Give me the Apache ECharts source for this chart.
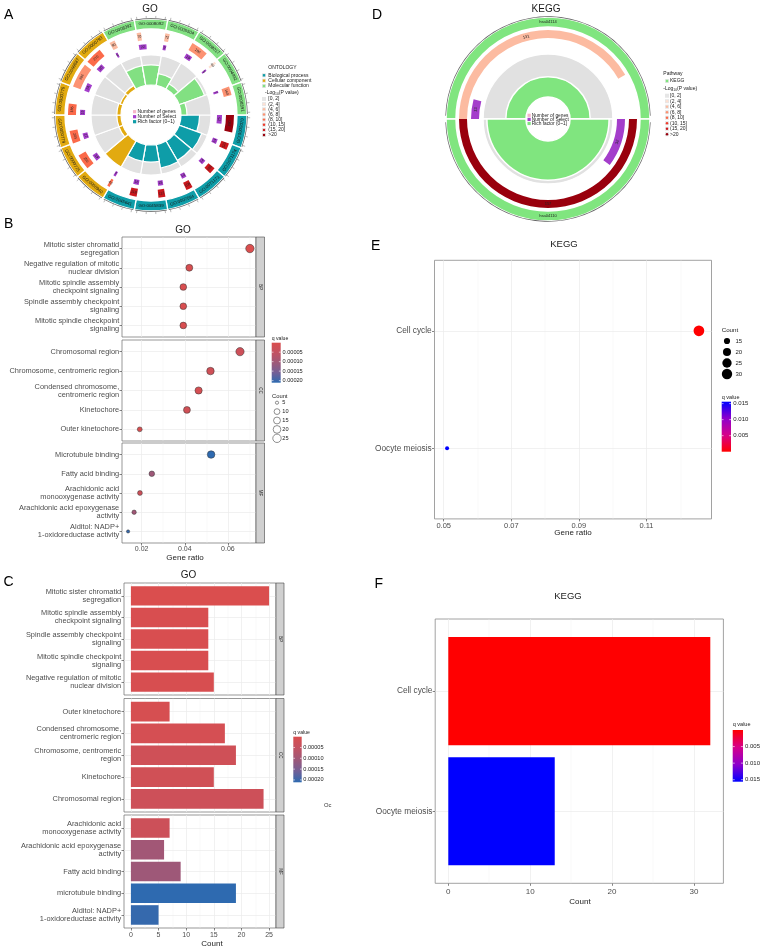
<!DOCTYPE html>
<html>
<head>
<meta charset="utf-8">
<script src="https://cdn.jsdelivr.net/npm/echarts@6.0.0/dist/echarts.min.js"></script>
<style>
html,body{margin:0;padding:0;background:#fff;}
#chart{width:769px;height:951px;}
</style>
</head>
<body>
<div id="chart"></div>
<script>
// ======================= DATA =======================
// Panel A - GO circle (sectors clockwise from 3 o'clock)
const goIds = ['GO:0000070','GO:0071174','GO:0071173','GO:0007094','GO:0045839','GO:0045841',
               'GO:0000940','GO:0000775','GO:0000779','GO:0000776','GO:0098687','GO:0000793',
               'GO:0008392','GO:0008092','GO:0005504','GO:0008017','GO:0004032','GO:0008391'];
const goOntology = ['BP','BP','BP','BP','BP','BP','CC','CC','CC','CC','CC','CC','MF','MF','MF','MF','MF','MF'];
const goGenes = [280,110,105,108,112,118, 42,250,205,185,396,270, 90,70,72,280,40,140];
const goLogPClass = [7,6,6,6,6,6, 4,4,4,4,3,4, 2,2,2,3,1,3];
const goSelect = [25,14,14,14,15,16, 7,19,17,15,24,20, 6,22,9,19,5,7];
const goRich = [0.62,0.8,0.75,0.8,0.57,0.57, 1.0,0.14,0.14,0.14,0.1,0.14, 0.67,0.67,0.4,0.2,0.9,0.2];

// Panel D - KEGG circle (clockwise from 9 o'clock)
const keggIds = ['hsa04114','hsa04110'];
const keggGenes = [131,157];
const keggLogPClass = [2,7];
const keggSelect = [13,32];
const keggRich = [0.47,0.91];

const logPLevels = ['[0, 2]','(2, 4]','(4, 6]','(6, 8]','(8, 10]','(10, 15]','(15, 20]','>20'];
const ontologyNames = ['Biological process','Cellular component','Molecular function'];

// Panel B - GO dot plot
const bLabelsBP = ['Mitotic sister chromatid\nsegregation','Negative regulation of mitotic\nnuclear division','Mitotic spindle assembly\ncheckpoint signaling','Spindle assembly checkpoint\nsignaling','Mitotic spindle checkpoint\nsignaling'];
const bRatioBP = [0.0702,0.0421,0.0393,0.0393,0.0393];
const bCountBP = [25,15,14,14,14];
const bQBP = [0.0000002,0.000006,0.000004,0.000004,0.000004];
const bLabelsCC = ['Chromosomal region','Chromosome, centromeric region','Condensed chromosome,\ncentromeric region','Kinetochore','Outer kinetochore'];
const bRatioCC = [0.0656,0.0519,0.0464,0.0410,0.0191];
const bCountCC = [24,19,17,15,7];
const bQCC = [0.000028,0.000025,0.000012,0.000022,0.000008];
const bLabelsMF = ['Microtubule binding','Fatty acid binding','Arachidonic acid\nmonooxygenase activity','Arachidonic acid epoxygenase\nactivity','Alditol: NADP+\n1-oxidoreductase activity'];
const bRatioMF = [0.0522,0.0247,0.0192,0.0165,0.0137];
const bCountMF = [19,9,7,6,5];
const bQMF = [0.00021,0.000105,0.00003,0.0001,0.000205];
const bXTicks = [0.02,0.04,0.06];
const bCountLegend = [5,10,15,20,25];
const goQTicks = [0.00005,0.0001,0.00015,0.0002];

// Panel C - GO bar plot
const cLabelsBP = ['Mitotic sister chromatid\nsegregation','Mitotic spindle assembly\ncheckpoint signaling','Spindle assembly checkpoint\nsignaling','Mitotic spindle checkpoint\nsignaling','Negative regulation of mitotic\nnuclear division'];
const cCountBP = [25,14,14,14,15];
const cQBP = [0.0000002,0.000004,0.000004,0.000004,0.000006];
const cLabelsCC = ['Outer kinetochore','Condensed chromosome,\ncentromeric region','Chromosome, centromeric\nregion','Kinetochore','Chromosomal region'];
const cCountCC = [7,17,19,15,24];
const cQCC = [0.000008,0.000012,0.000025,0.000022,0.000028];
const cLabelsMF = ['Arachidonic acid\nmonooxygenase activity','Arachidonic acid epoxygenase\nactivity','Fatty acid binding','microtubule binding','Alditol: NADP+\n1-oxidoreductase activity'];
const cCountMF = [7,6,9,19,5];
const cQMF = [0.00003,0.0001,0.000105,0.00021,0.000205];
const cXTicks = [0,5,10,15,20,25];

// Panels E & F - KEGG
const keggTerms = ['Cell cycle','Oocyte meiosis'];
const keggCount = [32,13];
const keggRatio = [0.1255,0.0510];
const keggQ = [0.00002,0.0156];
const eXTicks = [0.05,0.07,0.09,0.11];
const fXTicks = [0,10,20,30];
const eCountLegend = [15,20,25,30];
const keggQTicks = [0.005,0.010,0.015];

// ======================= STYLE =======================
const FONT = '"Liberation Sans", Arial, Helvetica, sans-serif';
const ontColor = {BP:'#0E9DA8', CC:'#E2AA10', MF:'#82E082'};
const keggGreen = '#80E57F';
const purple = '#A43ECB';
const pink = '#F7B5C8';
const logPColors = ['#E6E6E6','#FEE0D2','#FCBBA1','#FC9272','#FB6A4A','#EF3B2C','#CB181D','#99000D'];
const goQColors = ['#DA4E4E','#C25262','#9E5878','#735F96','#2D6AB0'];
const keggQColors = ['#FF0000','#D6008A','#8E00CC','#0000FF'];

const grids = [], xAxes = [], yAxes = [], series = [], graphics = [], visualMaps = [];

function T(x, y, text, size, o) {
  o = o || {};
  const el = {type:'text', x:x, y:y, silent:true, z:100,
    style:{text:text, fontSize:size, fontFamily:FONT, fill:o.fill || '#1a1a1a', align:o.align || 'left', verticalAlign:o.va || 'middle'}};
  if (o.rotation != null) el.rotation = o.rotation;
  if (o.rich) el.style.rich = o.rich;
  graphics.push(el);
}
function R(x, y, w, h, fill, stroke, lw) {
  graphics.push({type:'rect', silent:true, z:99, shape:{x:x, y:y, width:w, height:h}, style:{fill:fill, stroke:stroke || null, lineWidth:lw || 0}});
}
function Cir(cx, cy, r, fill, stroke, lw) {
  graphics.push({type:'circle', silent:true, z:100, shape:{cx:cx, cy:cy, r:r}, style:{fill:fill, stroke:stroke || null, lineWidth:lw || 0}});
}
function Ln(x1, y1, x2, y2, stroke, lw) {
  graphics.push({type:'line', silent:true, z:101, shape:{x1:x1, y1:y1, x2:x2, y2:y2}, style:{stroke:stroke, lineWidth:lw}});
}

// ---------- cartesian facet panel (ggplot-like) ----------
function addPanel(box, cats, xr, o) {
  const unit = box.height / (cats.length + 0.2);
  const go = grids.length;
  grids.push({left:box.left, top:box.top, width:box.width, height:box.height, show:true, z:0,
    borderColor:o.border, borderWidth:o.borderWidth, backgroundColor:'rgba(0,0,0,0)'});
  const xo = xAxes.length;
  xAxes.push({gridIndex:go, type:'value', min:xr[0], max:xr[1], splitLine:{show:false},
    axisLine:{show:false, onZero:false},
    axisTick:{show:!!o.showX, customValues:o.xTicks, length:2.5, lineStyle:{color:'#333', width:0.6}},
    axisLabel:{show:!!o.showX, customValues:o.xTicks, formatter:o.xFmt, fontSize:o.xFont, color:'#4d4d4d', margin:o.xMargin, fontFamily:FONT}});
  const yo = yAxes.length;
  yAxes.push({gridIndex:go, type:'value', min:0, max:1, show:false, axisLine:{onZero:false}});
  series.push({type:'line', xAxisIndex:xo, yAxisIndex:yo, data:[], silent:true, z:1, symbol:'none',
    markLine:{silent:true, z:1, symbol:['none','none'], label:{show:false}, animation:false,
      data: o.xMajor.map(v => ({xAxis:v, lineStyle:{color:'#EBEBEB', width:0.7, type:'solid'}}))
        .concat(o.xMinor.map(v => ({xAxis:v, lineStyle:{color:'#EFEFEF', width:0.4, type:'solid'}})))}});
  const gi = grids.length;
  grids.push({left:box.left, top:box.top + 0.1 * unit, width:box.width, height:cats.length * unit, show:false});
  const xi = xAxes.length;
  xAxes.push({gridIndex:gi, type:'value', min:xr[0], max:xr[1], show:false, splitLine:{show:false}, axisLine:{onZero:false}});
  const yi = yAxes.length;
  yAxes.push({gridIndex:gi, type:'category', data:cats, inverse:true,
    axisLine:{show:false, onZero:false},
    axisTick:{show:true, alignWithLabel:true, length:2.5, lineStyle:{color:'#333', width:0.6}},
    axisLabel:{interval:0, fontSize:o.yFont, lineHeight:o.yLine, color:'#4d4d4d', margin:o.yMargin, fontFamily:FONT},
    splitLine:{show:false}});
  series.push({type:'line', xAxisIndex:xi, yAxisIndex:yi, data:[], silent:true, z:1, symbol:'none',
    markLine:{silent:true, z:1, symbol:['none','none'], label:{show:false}, animation:false,
      data: cats.map((c, i) => ({yAxis:i, lineStyle:{color:'#EBEBEB', width:0.7, type:'solid'}}))}});
  if (o.strip) {
    R(box.left + box.width, box.top, o.stripW, box.height, '#D0D0D0', '#444', 0.6);
    T(box.left + box.width + o.stripW / 2, box.top + box.height / 2, o.strip, 4.5, {align:'center', rotation:-Math.PI / 2});
  }
  return {xi:xi, yi:yi, unit:unit};
}
function expandRange(vals, base) {
  const all = base != null ? vals.concat([base]) : vals;
  const lo = Math.min.apply(null, all), hi = Math.max.apply(null, all);
  const pad = 0.05 * (hi - lo);
  return [lo - pad, hi + pad];
}
function minorOf(ticks, xr) {
  const step = ticks[1] - ticks[0];
  const out = [];
  for (let i = -1; i < ticks.length; i++) {
    const v = (i < 0 ? ticks[0] - step : ticks[i]) + step / 2;
    if (v > xr[0] && v < xr[1]) out.push(+v.toFixed(6));
  }
  return out;
}

// ======================= PANEL B =======================
const bAll = bRatioBP.concat(bRatioCC, bRatioMF);
const bRange = expandRange(bAll);
const bCntAll = bCountBP.concat(bCountCC, bCountMF);
const bCmin = Math.min.apply(null, bCntAll), bCmax = Math.max.apply(null, bCntAll);
function sizeB(c) { return 3.2 + Math.sqrt((c - bCmin) / (bCmax - bCmin)) * 5.2; }
const bScatterIdx = [];
const bCfgBase = {border:'#6b6b6b', borderWidth:0.7, xTicks:bXTicks, xMajor:bXTicks, xMinor:minorOf(bXTicks, bRange),
  xFmt:v => (+v).toFixed(2), xFont:7, xMargin:2.5, yFont:7.4, yLine:8, yMargin:2.8, stripW:8.5};
[[bLabelsBP, bRatioBP, bCountBP, bQBP, 237, 100, 'BP', false],
 [bLabelsCC, bRatioCC, bCountCC, bQCC, 340, 101, 'CC', false],
 [bLabelsMF, bRatioMF, bCountMF, bQMF, 443, 100, 'MF', true]].forEach(f => {
  const p = addPanel({left:122, top:f[4], width:134, height:f[5]}, f[0], bRange, Object.assign({}, bCfgBase, {showX:f[7], strip:f[6]}));
  bScatterIdx.push(series.length);
  series.push({type:'scatter', xAxisIndex:p.xi, yAxisIndex:p.yi, z:10, animation:false,
    data:f[1].map((r, i) => [r, i, f[2][i], f[3][i]]),
    symbolSize:v => sizeB(v[2]), itemStyle:{borderColor:'#333', borderWidth:0.5, opacity:1}});
});
const goQMax = 0.000211;
visualMaps.push({type:'continuous', show:false, min:0, max:goQMax, dimension:3, seriesIndex:bScatterIdx, inRange:{color:goQColors}});

// ======================= PANEL C =======================
const cRange = expandRange(cCountBP.concat(cCountCC, cCountMF), 0);
const cBarIdx = [];
const cCfgBase = {border:'#6b6b6b', borderWidth:0.7, xTicks:cXTicks, xMajor:cXTicks, xMinor:minorOf(cXTicks, cRange),
  xFmt:v => String(v), xFont:7, xMargin:4, yFont:7.4, yLine:8, yMargin:2.8, stripW:8};
[[cLabelsBP, cCountBP, cQBP, 583, 112, 'BP', false],
 [cLabelsCC, cCountCC, cQCC, 698.5, 113.5, 'CC', false],
 [cLabelsMF, cCountMF, cQMF, 815, 113, 'MF', true]].forEach(f => {
  const p = addPanel({left:124, top:f[3], width:152, height:f[4]}, f[0], cRange, Object.assign({}, cCfgBase, {showX:f[6], strip:f[5]}));
  cBarIdx.push(series.length);
  series.push({type:'bar', xAxisIndex:p.xi, yAxisIndex:p.yi, z:10, animation:false, barWidth:0.9 * p.unit,
    data:f[1].map((c, i) => [c, i, f[2][i]]), encode:{x:0, y:1}});
});
visualMaps.push({type:'continuous', show:false, min:0, max:goQMax, dimension:2, seriesIndex:cBarIdx, inRange:{color:goQColors}});

// ======================= PANEL E =======================
const eRange = expandRange(keggRatio);
const eCmin = Math.min.apply(null, keggCount), eCmax = Math.max.apply(null, keggCount);
function sizeE(c) { return 4 + Math.sqrt(Math.max(0, (c - eCmin) / (eCmax - eCmin))) * 6.7; }
const keggQMax = 0.0156;
{
  const p = addPanel({left:434.5, top:260.3, width:277, height:258.6}, keggTerms, eRange,
    {border:'#8a8a8a', borderWidth:0.8, showX:true, xTicks:eXTicks, xMajor:eXTicks, xMinor:minorOf(eXTicks, eRange),
     xFmt:v => (+v).toFixed(2), xFont:7.5, xMargin:3, yFont:8.3, yLine:9, yMargin:2.8});
  visualMaps.push({type:'continuous', show:false, min:0, max:keggQMax, dimension:3, seriesIndex:[series.length], inRange:{color:keggQColors}});
  series.push({type:'scatter', xAxisIndex:p.xi, yAxisIndex:p.yi, z:10, animation:false,
    data:keggRatio.map((r, i) => [r, i, keggCount[i], keggQ[i]]), symbolSize:v => sizeE(v[2]), itemStyle:{opacity:1}});
}

// ======================= PANEL F =======================
const fRange = expandRange(keggCount, 0);
{
  const p = addPanel({left:435.2, top:619, width:288.2, height:264.3}, keggTerms, fRange,
    {border:'#8a8a8a', borderWidth:0.8, showX:true, xTicks:fXTicks, xMajor:fXTicks, xMinor:minorOf(fXTicks, fRange),
     xFmt:v => String(v), xFont:8, xMargin:4.5, yFont:8.3, yLine:9, yMargin:2.8});
  visualMaps.push({type:'continuous', show:false, min:0, max:keggQMax, dimension:2, seriesIndex:[series.length], inRange:{color:keggQColors}});
  series.push({type:'bar', xAxisIndex:p.xi, yAxisIndex:p.yi, z:10, animation:false, barWidth:0.9 * p.unit,
    data:keggCount.map((c, i) => [c, i, keggQ[i]]), encode:{x:0, y:1}});
}

// ======================= CIRCLES (A & D) =======================
function ringSeries(polarIndex, items) {
  return {
    type:'custom', coordinateSystem:'polar', polarIndex:polarIndex, silent:true, z:2, animation:false,
    data:items.map(it => [it.r0, it.a0, it.r1, it.a1]),
    renderItem:function (params, api) {
      const it = items[params.dataIndex];
      const r0 = api.value(0), a0 = api.value(1), r1 = api.value(2), a1 = api.value(3);
      const cs = params.coordSys;
      if (it.kind === 'tick') {
        const q0 = api.coord([r0, a0]), q1 = api.coord([r1, a0]);
        return {type:'line', shape:{x1:q0[0], y1:q0[1], x2:q1[0], y2:q1[1]}, style:{stroke:it.stroke, lineWidth:it.lw}};
      }
      const p0 = api.coord([r0, a0]), p1 = api.coord([r1, a1]);
      const children = [{type:'sector', shape:{cx:cs.cx, cy:cs.cy, r0:p0[2], r:p1[2], startAngle:-p0[3], endAngle:-p1[3], clockwise:true},
        style:{fill:it.fill, stroke:it.stroke || null, lineWidth:it.lw || 0}}];
      if (it.text) {
        const pm = api.coord([(r0 + r1) / 2, (a0 + a1) / 2]);
        let rot = pm[3] - Math.PI / 2;
        while (rot > Math.PI / 2) rot -= Math.PI;
        while (rot < -Math.PI / 2) rot += Math.PI;
        children.push({type:'text', x:pm[0], y:pm[1], rotation:rot,
          style:{text:it.text, fontSize:it.fs, fontFamily:FONT, fill:it.tc || '#222', align:'center', verticalAlign:'middle'}});
      }
      return {type:'group', children:children};
    }
  };
}

// --- A ---
const GENE_SCALE_A = 460, SELECT_SCALE_A = 70;
const aItems = [];
goIds.forEach((id, i) => {
  const col = ontColor[goOntology[i]];
  aItems.push({r0:30, r1:60, a0:i, a1:i + 1, fill:'#E1E1E1', stroke:'#fff', lw:1.2});
  aItems.push({r0:30, r1:30 + 30 * goRich[i], a0:i, a1:i + 1, fill:col, stroke:'#fff', lw:1.2});
  aItems.push({r0:66, r1:71, a0:i, a1:i + goSelect[i] / SELECT_SCALE_A, fill:purple, text:String(goSelect[i]), fs:3.6});
  aItems.push({r0:75, r1:83, a0:i, a1:i + goGenes[i] / GENE_SCALE_A, fill:logPColors[goLogPClass[i]], text:String(goGenes[i]), fs:3.6});
  aItems.push({r0:86, r1:96, a0:i, a1:i + 1, fill:col, stroke:'#fff', lw:1.3, text:id, fs:4.4, tc:'#1a1a1a'});
  aItems.push({r0:96, r1:96.7, a0:i + 0.03, a1:i + 0.97, fill:'#555'});
  for (let k = 0; k < 4; k++) aItems.push({kind:'tick', r0:96.7, r1:99.2, a0:i + 0.08 + k * 0.28, a1:i + 0.08 + k * 0.28, stroke:'#8a8a8a', lw:0.6});
});
// --- D ---
const keggMaxGenes = Math.max.apply(null, keggGenes);
const dItems = [];
keggIds.forEach((id, i) => {
  dItems.push({r0:22, r1:65, a0:i, a1:i + 1, fill:'#E1E1E1', stroke:'#fff', lw:1.5});
  dItems.push({r0:22, r1:22 + 43 * keggRich[i], a0:i, a1:i + 1, fill:keggGreen, stroke:'#fff', lw:1.5});
  dItems.push({r0:69, r1:77, a0:i, a1:i + keggSelect[i] / keggMaxGenes, fill:purple, text:String(keggSelect[i]), fs:4});
  dItems.push({r0:81, r1:89, a0:i, a1:i + keggGenes[i] / keggMaxGenes, fill:logPColors[keggLogPClass[i]], text:String(keggGenes[i]), fs:4});
  dItems.push({r0:92, r1:102, a0:i, a1:i + 1, fill:keggGreen, stroke:'#fff', lw:1.5, text:id, fs:4, tc:'#1a1a1a'});
  dItems.push({r0:102, r1:102.7, a0:i + 0.01, a1:i + 0.99, fill:'#666'});
});
series.push(ringSeries(0, aItems));
series.push(ringSeries(1, dItems));

// ======================= TEXT / LEGENDS =======================
const subRich = {sub:{fontSize:3.4, fontFamily:FONT, fill:'#1a1a1a', padding:[3, 0, 0, 0]}};
// panel letters
T(4, 15, 'A', 14, {fill:'#000'});
T(4, 224, 'B', 14, {fill:'#000'});
T(3.5, 582.5, 'C', 14, {fill:'#000'});
T(372, 15, 'D', 14, {fill:'#000'});
T(371, 246, 'E', 14, {fill:'#000'});
T(374.5, 584, 'F', 14, {fill:'#000'});
// titles
T(150, 9.5, 'GO', 10, {align:'center'});
T(546, 9.5, 'KEGG', 10, {align:'center'});
T(183, 230, 'GO', 10, {align:'center'});
T(188.5, 575, 'GO', 10, {align:'center'});
T(564, 244, 'KEGG', 9.5, {align:'center'});
T(568, 596, 'KEGG', 9.5, {align:'center'});
// axis titles
T(185, 558, 'Gene ratio', 8, {align:'center', fill:'#222'});
T(212, 943.5, 'Count', 8, {align:'center', fill:'#222'});
T(573, 532.5, 'Gene ratio', 8, {align:'center', fill:'#222'});
T(580, 901.5, 'Count', 8, {align:'center', fill:'#222'});

// A center legend
[[pink, 'Number of genes'], [purple, 'Number of Select'], [ontColor.BP, 'Rich factor (0~1)']].forEach((d, k) => {
  const y = 111.7 + k * 5;
  R(133, y - 1.6, 3.2, 3.2, d[0]);
  T(137.5, y, d[1], 5);
});
// D center legend
[[pink, 'Number of genes'], [purple, 'Number of Select'], [keggGreen, 'Rich factor (0~1)']].forEach((d, k) => {
  const y = 115.3 + k * 4.1;
  R(527.5, y - 1.6, 3.2, 3.2, d[0]);
  T(531.7, y, d[1], 4.8);
});
// A right legend
T(268.3, 67.7, 'ONTOLOGY', 5);
ontologyNames.forEach((n, k) => {
  const y = 75.3 + k * 5.35;
  R(262, y - 2, 4, 4, '#E6E6E6');
  R(262.8, y - 1.2, 2.4, 2.4, [ontColor.BP, ontColor.CC, ontColor.MF][k]);
  T(268.3, y, n, 5);
});
T(265, 93, '-Log{sub|10}(P value)', 5, {rich:subRich});
logPLevels.forEach((n, k) => {
  const y = 99 + k * 5.15;
  R(262, y - 2, 4, 4, '#E6E6E6');
  if (k > 0) Cir(264, y, 1.2, logPColors[k]);
  T(268.3, y, n, 5);
});
// D right legend
T(663.3, 74, 'Pathway', 5);
R(665, 81 - 2, 4, 4, '#E6E6E6');
R(665.8, 81 - 1.2, 2.4, 2.4, keggGreen);
T(670, 81, 'KEGG', 5);
T(663.3, 89, '-Log{sub|10}(P value)', 5, {rich:subRich});
logPLevels.forEach((n, k) => {
  const y = 95.7 + k * 5.5;
  R(665, y - 2, 4, 4, '#E6E6E6');
  if (k > 0) Cir(667, y, 1.2, logPColors[k]);
  T(670, y, n, 5);
});

// colour bar legend helper
function colorBar(x, y, w, h, colors, topIsHigh, qMax, ticks, fmt, labelX, fs, title, titleY) {
  const stops = colors.map((c, k) => ({offset: topIsHigh ? 1 - k / (colors.length - 1) : k / (colors.length - 1), color:c}));
  stops.sort((a, b) => a.offset - b.offset);
  graphics.push({type:'rect', silent:true, z:99, shape:{x:x, y:y, width:w, height:h},
    style:{fill:new echarts.graphic.LinearGradient(0, 0, 0, 1, stops)}});
  ticks.forEach(t => {
    const yy = topIsHigh ? y + h * (1 - t / qMax) : y + h * (t / qMax);
    Ln(x, yy, x + w * 0.2, yy, '#fff', 0.6);
    Ln(x + w * 0.8, yy, x + w, yy, '#fff', 0.6);
    T(labelX, yy, fmt(t), fs, {fill:'#222'});
  });
  T(x, titleY, title, fs * 0.92, {fill:'#222'});
}
// B legends
colorBar(271.7, 342.7, 9, 40, goQColors, false, goQMax, goQTicks, t => t.toFixed(5), 282.5, 5.6, 'q value', 338.3);
T(272, 396, 'Count', 5.8, {fill:'#222'});
bCountLegend.forEach((c, k) => {
  const y = 402.7 + k * 8.9;
  Cir(277, y, sizeB(c) / 2, '#fff', '#222', 0.5);
  T(282.3, y, String(c), 5.6, {fill:'#222'});
});
// C legend
colorBar(293.3, 736.7, 8.4, 45.6, goQColors, false, goQMax, goQTicks, t => t.toFixed(5), 303.3, 5.6, 'q value', 732.3);
T(324, 805.7, 'Oc', 5.8, {fill:'#333'});
// E legends
T(721.7, 330, 'Count', 6.2, {fill:'#222'});
eCountLegend.forEach((c, k) => {
  const y = 341 + k * 11;
  Cir(727, y, sizeE(c) / 2, '#000');
  T(735.5, y, String(c), 6, {fill:'#222'});
});
colorBar(721.7, 401.7, 9.3, 50, keggQColors, true, keggQMax, keggQTicks, t => t.toFixed(3), 733.3, 6, 'q value', 397);
// F legend
colorBar(732.7, 730, 10.3, 51.7, keggQColors, false, keggQMax, keggQTicks, t => t.toFixed(3), 745, 6, 'q value', 724);

// ======================= CHART =======================
const chart = echarts.init(document.getElementById('chart'), null, {renderer:'canvas', width:769, height:951});
chart.setOption({
  backgroundColor:'#ffffff',
  animation:false,
  textStyle:{fontFamily:FONT},
  grid:grids,
  xAxis:xAxes,
  yAxis:yAxes,
  polar:[{center:[151, 115], radius:[0, 100]}, {center:[548, 119], radius:[0, 104]}],
  angleAxis:[
    {polarIndex:0, type:'value', min:0, max:goIds.length, startAngle:0, clockwise:true, show:false, splitLine:{show:false}},
    {polarIndex:1, type:'value', min:0, max:keggIds.length, startAngle:180, clockwise:true, show:false, splitLine:{show:false}}
  ],
  radiusAxis:[
    {polarIndex:0, type:'value', min:0, max:100, show:false, splitLine:{show:false}},
    {polarIndex:1, type:'value', min:0, max:104, show:false, splitLine:{show:false}}
  ],
  visualMap:visualMaps,
  series:series,
  graphic:{elements:graphics}
});
</script>
</body>
</html>
